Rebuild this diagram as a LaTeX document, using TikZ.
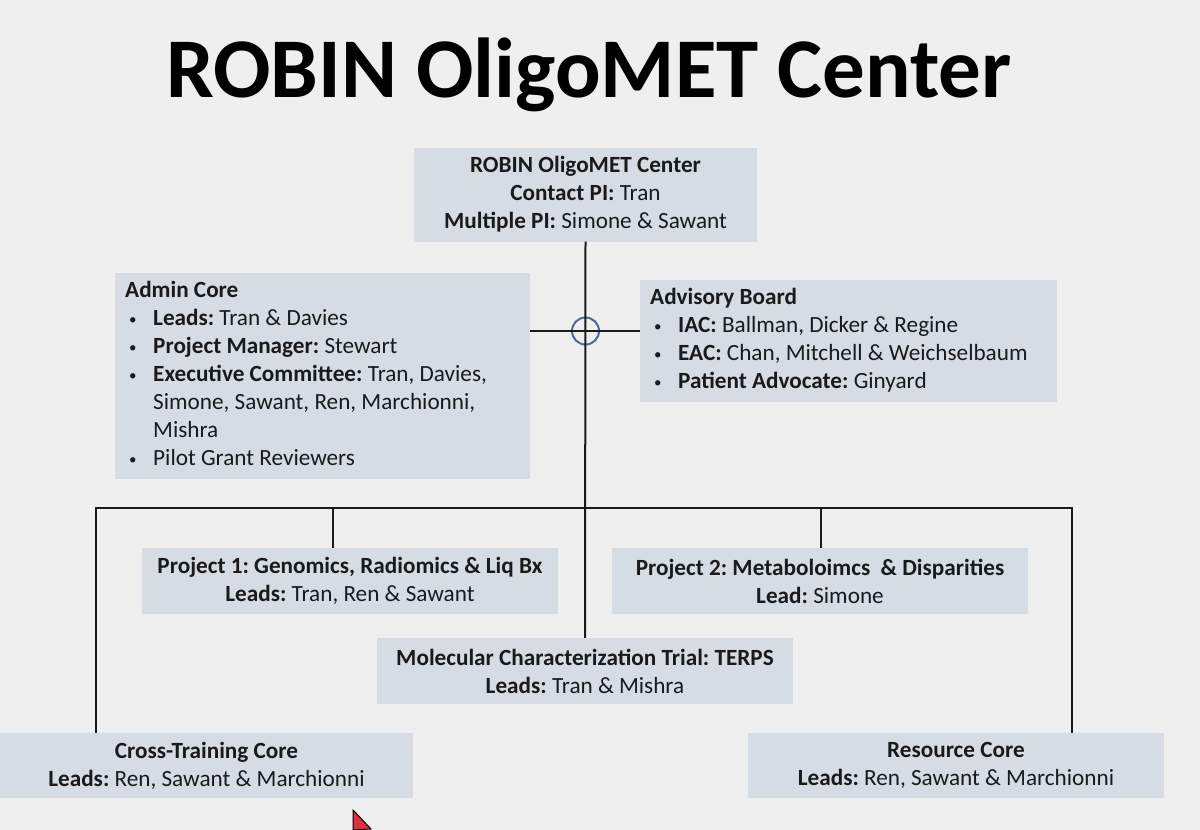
\documentclass[tikz,border=0pt]{standalone}
\usepackage{fontspec}
\setmainfont{Carlito}
\frenchspacing
\definecolor{bg}{HTML}{EFEFEF}
\definecolor{boxfill}{HTML}{D6DCE4}
\definecolor{ink}{HTML}{1A1A1A}
\definecolor{circblue}{HTML}{51699A}
\definecolor{cursorred}{HTML}{E0303F}
\newcommand{\bul}{\makebox[28pt][l]{\hspace{4pt}{\fontsize{15}{15}\selectfont\raisebox{1pt}{•}}}}
\newcommand{\ind}{\hspace*{28pt}}
\tikzset{
  box/.style={fill=boxfill, draw=none, inner xsep=10pt, inner ysep=4pt, text=ink,
    font=\fontsize{23.2}{28}\selectfont},
  cbox/.style={box, align=center},
  lbox/.style={box, anchor=north west},
  link/.style={draw=ink, line width=2pt}
}
\begin{document}
\begin{tikzpicture}[x=1pt,y=-1pt]
\fill[bg] (0,0) rectangle (1200,830);
\useasboundingbox (0,0) rectangle (1200,830);

\node[text=black, font=\fontsize{85}{85}\selectfont\bfseries] (title) at (589,75) {ROBIN OligoMET Center};

\node[cbox, minimum width=343pt, minimum height=94pt] (top) at (585.5,194.5)
 {\textbf{ROBIN OligoMET Center}\\ \textbf{Contact PI:} Tran\\ \textbf{Multiple PI:} Simone \& Sawant};

\node[lbox, minimum width=415pt, minimum height=206pt] (admin) at (115,273)
 {\begin{tabular}{@{}p{395pt}@{}}
  \textbf{Admin Core}\\
  \bul\textbf{Leads:} Tran \& Davies\\
  \bul\textbf{Project Manager:} Stewart\\
  \bul\textbf{Executive Committee:} Tran, Davies,\\
  \ind Simone, Sawant, Ren, Marchionni,\\
  \ind Mishra\\
  \bul Pilot Grant Reviewers
  \end{tabular}};

\node[lbox, minimum width=417pt, minimum height=122pt] (adv) at (640,280)
 {\begin{tabular}{@{}p{397pt}@{}}
  \textbf{Advisory Board}\\
  \bul\textbf{IAC:} Ballman, Dicker \& Regine\\
  \bul\textbf{EAC:} Chan, Mitchell \& Weichselbaum\\
  \bul\textbf{Patient Advocate:} Ginyard
  \end{tabular}};

\node[cbox, minimum width=416pt, minimum height=66pt] (p1) at (350,581)
 {\textbf{Project 1: Genomics, Radiomics \& Liq Bx}\\ \textbf{Leads:} Tran, Ren \& Sawant};
\node[cbox, minimum width=416pt, minimum height=66pt] (p2) at (820,581)
 {\textbf{Project 2: Metaboloimcs\ \ \& Disparities}\\ \textbf{Lead:} Simone};
\node[cbox, minimum width=416pt, minimum height=66pt] (mol) at (585,671)
 {\textbf{Molecular Characterization Trial: TERPS}\\ \textbf{Leads:} Tran \& Mishra};
\node[cbox, minimum width=413pt, minimum height=65pt] (cross) at (206.5,765.5)
 {\textbf{Cross-Training Core}\\ \textbf{Leads:} Ren, Sawant \& Marchionni};
\node[cbox, minimum width=416pt, minimum height=65pt] (res) at (956,765.5)
 {\textbf{Resource Core}\\ \textbf{Leads:} Ren, Sawant \& Marchionni};

% connectors
\coordinate (bl) at (96,508);
\coordinate (br) at (1072,508);
\coordinate (p1d) at (333,508);
\coordinate (p2d) at (821,508);
\node[circle, draw=circblue, line width=2pt, minimum size=27pt, inner sep=0pt] (circ) at (585.5,331) {};

\draw[link] (top.south) -- (mol.north);
\draw[link] (admin.east |- circ) -- (adv.west |- circ);
\draw[link] (cross.north -| bl) -- (bl) -- (br) -- (res.north -| br);
\draw[link] (p1d) -- (p1d |- p1.north);
\draw[link] (p2d) -- (p2d |- p2.north);

% mouse cursor
\filldraw[fill=cursorred, draw=black, line width=1pt] (353,810) -- (371,829) -- (353,830) -- cycle;
\end{tikzpicture}
\end{document}
